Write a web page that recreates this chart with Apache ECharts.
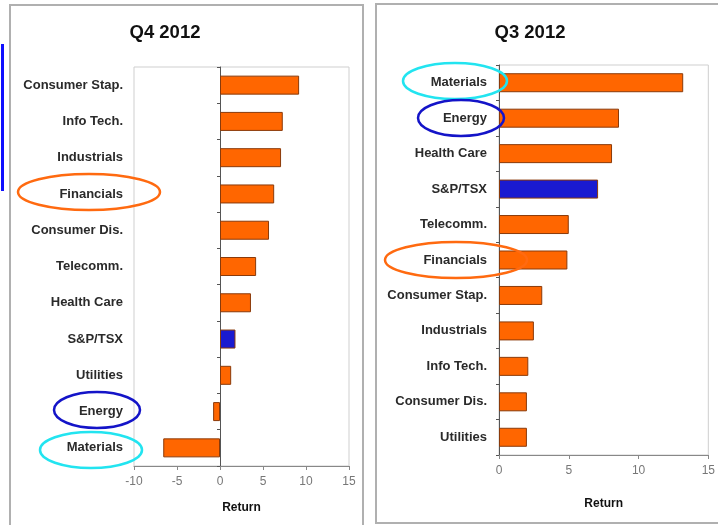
<!DOCTYPE html>
<html>
<head>
<meta charset="utf-8">
<script src="https://cdn.jsdelivr.net/npm/echarts@6/dist/echarts.min.js"></script>
<style>
  html, body { margin: 0; padding: 0; background: #fff; }
  #chart { width: 718px; height: 525px; }
</style>
</head>
<body>
<div id="chart"></div>
<script>
// Sector returns (%), listed top to bottom as drawn
const q4Sectors = ['Consumer Stap.', 'Info Tech.', 'Industrials', 'Financials', 'Consumer Dis.', 'Telecomm.', 'Health Care', 'S&P/TSX', 'Utilities', 'Energy', 'Materials'];
const q4Returns = [9.2, 7.3, 7.1, 6.3, 5.7, 4.2, 3.6, 1.8, 1.3, -0.8, -6.6];

const q3Sectors = ['Materials', 'Energy', 'Health Care', 'S&P/TSX', 'Telecomm.', 'Financials', 'Consumer Stap.', 'Industrials', 'Info Tech.', 'Consumer Dis.', 'Utilities'];
const q3Returns = [13.2, 8.6, 8.1, 7.1, 5.0, 4.9, 3.1, 2.5, 2.1, 2.0, 2.0];

const panelTitles = ['Q4 2012', 'Q3 2012'];
const q4Ticks = { min: -10, max: 15, interval: 5 };
const q3Ticks = { min: 0, max: 15, interval: 5 };
const benchmark = 'S&P/TSX';

const ORANGE = '#ff6600';
const BLUE = '#1a1ad0';
const FONT = '"Liberation Sans", Arial, sans-serif';

const chart = echarts.init(document.getElementById('chart'), null, { renderer: 'canvas' });

function barColor(sectors) {
  return p => sectors[p.dataIndex] === benchmark ? BLUE : ORANGE;
}

function valueAxis(gridIndex, ticks, nameGap, labelMargin) {
  return {
    type: 'value', gridIndex,
    min: ticks.min, max: ticks.max, interval: ticks.interval,
    name: 'Return', nameLocation: 'middle', nameGap,
    nameTextStyle: { fontFamily: FONT, fontSize: 12, fontWeight: 'bold', color: '#111' },
    axisLine: { show: true, onZero: false, lineStyle: { color: '#888', width: 1 } },
    axisTick: { show: true, length: 4, lineStyle: { color: '#888' } },
    axisLabel: { fontFamily: FONT, fontSize: 12, color: '#777', margin: labelMargin },
    splitLine: { show: false }
  };
}

// category names sit at the grid's left edge
function labelAxis(gridIndex, sectors, margin) {
  return {
    type: 'category', gridIndex, data: sectors, inverse: true, position: 'left',
    axisLine: { show: false, onZero: false },
    axisTick: { show: false },
    axisLabel: { fontFamily: FONT, fontSize: 13, fontWeight: 'bold', color: '#2a2a2a', margin }
  };
}

// the category line and its ticks sit on the zero value
function zeroAxis(gridIndex, sectors) {
  return {
    type: 'category', gridIndex, data: sectors, inverse: true, position: 'left',
    axisLine: { show: true, onZero: true, lineStyle: { color: '#555', width: 1 } },
    axisTick: { show: true, length: 3, inside: false, lineStyle: { color: '#555' } },
    axisLabel: { show: false }
  };
}

const ellipse = (cx, cy, rx, ry, color) => ({
  type: 'ellipse', z: 100,
  shape: { cx, cy, rx, ry },
  style: { fill: null, stroke: color, lineWidth: 2.5 }
});

const titleText = (x, y, text) => ({
  type: 'text', x, y, z: 100,
  style: { text, fontFamily: FONT, fontSize: 18.5, fontWeight: 'bold', fill: '#111', textAlign: 'center', textVerticalAlign: 'middle' }
});

const option = {
  backgroundColor: '#fff',
  animation: false,
  grid: [
    { left: 134, top: 67, width: 215, height: 399, show: true, borderColor: '#cfcfcf', borderWidth: 1, backgroundColor: 'transparent' },
    { left: 499, top: 65, width: 213, height: 390, show: true, borderColor: '#cfcfcf', borderWidth: 1, backgroundColor: 'transparent' }
  ],
  xAxis: [
    valueAxis(0, q4Ticks, 36, 10),
    valueAxis(1, q3Ticks, 43, 10)
  ],
  yAxis: [
    labelAxis(0, q4Sectors, 11),
    zeroAxis(0, q4Sectors),
    labelAxis(1, q3Sectors, 12),
    zeroAxis(1, q3Sectors)
  ],
  series: [
    {
      type: 'bar', xAxisIndex: 0, yAxisIndex: 0, data: q4Returns, barWidth: 19,
      itemStyle: { color: barColor(q4Sectors), borderColor: '#8a3a0a', borderWidth: 1 }
    },
    {
      type: 'bar', xAxisIndex: 1, yAxisIndex: 2, data: q3Returns, barWidth: 19,
      itemStyle: { color: barColor(q3Sectors), borderColor: '#8a3a0a', borderWidth: 1 }
    }
  ],
  graphic: [
    // panel frames
    { type: 'polyline', z: 0, shape: { points: [[10, 530], [10, 5], [363, 5], [363, 530]] }, style: { fill: null, stroke: '#b0b0b0', lineWidth: 2 } },
    { type: 'polyline', z: 0, shape: { points: [[725, 523], [376, 523], [376, 4], [725, 4]] }, style: { fill: null, stroke: '#b0b0b0', lineWidth: 2 } },
    // side marker
    { type: 'rect', z: 0, shape: { x: 1, y: 44, width: 3, height: 147 }, style: { fill: '#1010ff' } },
    titleText(165, 33, panelTitles[0]),
    titleText(530, 33, panelTitles[1]),
    // highlight rings
    ellipse(89, 192, 71, 18, '#ff6a10'),
    ellipse(97, 410, 43, 18, '#1414c8'),
    ellipse(91, 450, 51, 18, '#22e4f0'),
    ellipse(455, 81, 52, 18, '#22e4f0'),
    ellipse(461, 118, 43, 18, '#1414c8'),
    ellipse(456, 260, 71, 18, '#ff6a10')
  ]
};

chart.setOption(option);
</script>
</body>
</html>
